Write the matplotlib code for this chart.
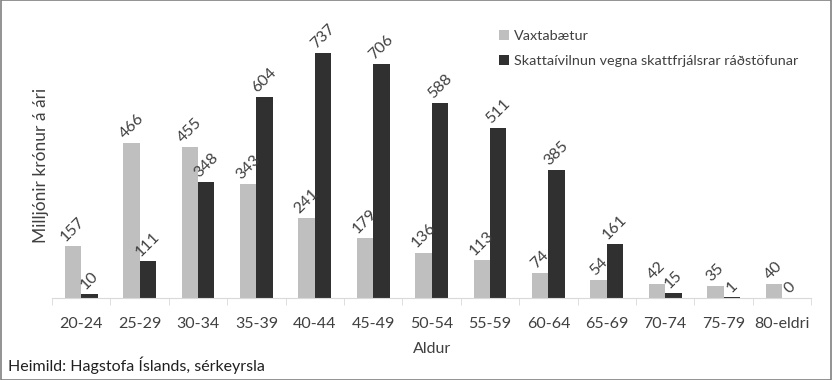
import matplotlib
matplotlib.use("Agg")
import matplotlib.pyplot as plt
from matplotlib.patches import Rectangle
import numpy as np

plt.rcParams['font.family'] = ['Lato', 'DejaVu Sans']

aldur = ['20-24', '25-29', '30-34', '35-39', '40-44', '45-49', '50-54',
         '55-59', '60-64', '65-69', '70-74', '75-79', '80-eldri']
vaxtabaetur = [157, 466, 455, 343, 241, 179, 136, 113, 74, 54, 42, 35, 40]
skattaivilnun = [10, 111, 348, 604, 737, 706, 588, 511, 385, 161, 15, 1, 0]

fig = plt.figure(figsize=(8.32, 3.8), dpi=100)
ax = fig.add_axes([0.0625, 0.2166, 0.975 - 0.0625, 0.9145 - 0.2166])

x = np.arange(len(aldur))
w = 0.28
b1 = ax.bar(x - w/2, vaxtabaetur, w, color='#bfbfbf', label='Vaxtabætur')
b2 = ax.bar(x + w/2, skattaivilnun, w, color='#303030',
            label='Skattaívilnun vegna skattfrjálsrar ráðstöfunar')

# value labels, rotated 45 degrees above each bar
for bars, vals in [(b1, vaxtabaetur), (b2, skattaivilnun)]:
    for r, v in zip(bars, vals):
        ax.text(r.get_x() + r.get_width()/2, r.get_height() + 6, str(v),
                ha='center', va='bottom', rotation=45,
                fontsize=11.5, color='#404040')

ax.set_xlim(-0.5, len(aldur) - 0.5)
ax.set_ylim(0, 800)
ax.set_yticks([])
for s in ['top', 'right', 'left']:
    ax.spines[s].set_visible(False)
ax.spines['bottom'].set_color('#d9d9d9')
ax.set_xticks(x)
ax.set_xticklabels(aldur, fontsize=11.5, color='#404040')
ax.tick_params(axis='x', length=0, pad=14)
ax.set_xticks(np.arange(len(aldur) + 1) - 0.5, minor=True)
ax.tick_params(axis='x', which='minor', length=5, color='#d9d9d9')

ax.set_xlabel('Aldur', fontsize=11.5, color='#404040', labelpad=8)
ax.set_ylabel('Milljónir krónur á ári', fontsize=12.5, color='#404040', labelpad=2)

ax.legend(loc='upper left', bbox_to_anchor=(0.572, 1.06), frameon=False,
          fontsize=10.4, handlelength=0.7, handleheight=0.7, handletextpad=0.3,
          labelspacing=0.9, labelcolor='#404040')

fig.text(0.01, 0.025, 'Heimild: Hagstofa Íslands, sérkeyrsla', fontsize=11.5, color='#202020')
fig.patches.append(Rectangle((0.001, 0.001), 0.998, 0.998, transform=fig.transFigure,
                             fill=False, edgecolor='#808080', linewidth=1.2))

fig.savefig('out.png', dpi=100)
